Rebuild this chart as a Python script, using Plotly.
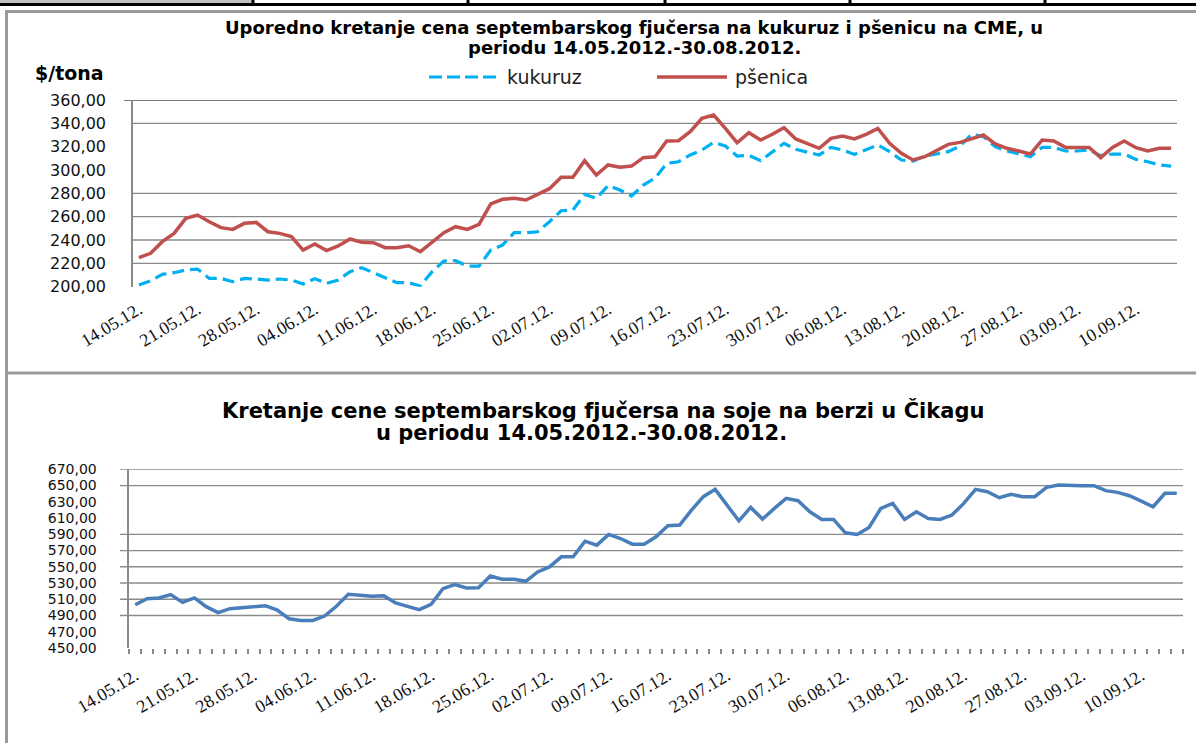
import plotly.graph_objects as go
import pandas as pd

W, H = 1196, 743

# ---------------- data ----------------
dates = list(pd.bdate_range("2012-05-14", periods=89).strftime("%d.%m.%y."))
label_dates = dates[::5]

kukuruz = [201.4, 205.1, 210.6, 212.0, 214.3, 215.1, 207.1, 207.1, 204.3, 207.1,
           206.6, 205.7, 206.6, 205.7, 202.3, 206.9, 202.9, 205.7, 212.9, 216.3,
           212.0, 208.0, 203.5, 203.4, 200.6, 212.9, 222.0, 222.3, 217.7, 217.7,
           231.4, 235.7, 246.3, 246.3, 247.1, 255.7, 265.1, 265.7, 279.1, 275.7,
           286.6, 282.9, 277.7, 287.1, 292.9, 305.7, 307.1, 312.9, 317.1, 323.7,
           320.6, 312.0, 312.6, 308.0, 315.7, 322.9, 317.7, 315.4, 312.9, 319.4,
           317.1, 313.4, 317.1, 321.4, 315.7, 308.6, 307.7, 312.0, 313.7, 315.7,
           320.6, 330.6, 328.6, 320.0, 316.3, 313.7, 311.4, 319.4, 319.4, 316.3,
           316.3, 317.1, 312.3, 313.7, 313.7, 309.1, 307.1, 304.3, 303.4]

psenica = [225.0, 228.6, 238.6, 245.7, 258.6, 261.4, 255.7, 250.6, 249.1, 254.3,
           255.1, 247.1, 245.7, 242.9, 231.4, 236.6, 230.9, 234.9, 240.9, 238.0,
           237.7, 233.4, 233.4, 235.1, 230.0, 238.6, 246.3, 251.4, 249.1, 253.4,
           270.9, 274.9, 275.7, 274.3, 279.4, 284.0, 293.7, 293.7, 308.0, 295.7,
           304.3, 302.3, 303.4, 310.6, 311.4, 324.9, 325.1, 332.9, 344.3, 347.1,
           335.7, 323.4, 332.0, 325.7, 330.6, 336.3, 326.6, 322.9, 318.6, 327.1,
           329.1, 326.6, 330.6, 335.7, 322.9, 314.3, 308.6, 311.4, 316.3, 322.0,
           323.7, 327.1, 330.0, 322.3, 318.6, 316.3, 313.7, 325.7, 324.9, 319.4,
           319.4, 319.4, 310.6, 319.4, 324.9, 319.1, 316.3, 318.6, 318.6]

soja = [503.3, 510.7, 511.6, 515.7, 506.2, 511.6, 500.9, 493.5, 498.4, 499.6,
        500.0, 502.1, 496.8, 486.0, 484.0, 484.0, 489.3, 501.3, 516.1, 514.9,
        513.6, 514.4, 505.4, 501.3, 497.2, 503.7, 523.1, 528.0, 523.9, 524.3,
        538.7, 534.6, 534.6, 532.1, 543.6, 549.8, 562.2, 562.2, 581.5, 576.6,
        589.8, 584.8, 577.8, 577.8, 586.9, 600.5, 601.3, 619.8, 636.3, 645.3,
        626.0, 606.6, 623.1, 608.7, 621.9, 634.2, 631.3, 617.7, 608.3, 608.3,
        591.8, 589.8, 598.4, 621.9, 628.0, 608.3, 617.7, 609.5, 608.3, 613.6,
        628.0, 645.3, 642.4, 635.0, 639.1, 636.3, 636.3, 647.8, 650.7, 649.8,
        649.8, 649.8, 643.7, 641.6, 637.5, 630.9, 623.9, 640.4, 640.4]

top_ticks = [200, 220, 240, 260, 280, 300, 320, 340, 360]
bottom_ticks = [450, 470, 490, 510, 530, 550, 570, 590, 610, 630, 650, 670]
# gridlines that are visible in the reference picture
top_grid = [220, 240, 260, 280, 340, 360]
bottom_grid = [490, 510, 530, 550, 570, 590, 650, 670]

title_top = ["Uporedno kretanje cena septembarskog fjučersa na kukuruz i pšenicu na CME, u",
             "periodu 14.05.2012.-30.08.2012."]
title_bottom = ["Kretanje cene septembarskog fjučersa na soje na berzi u Čikagu",
                "u periodu 14.05.2012.-30.08.2012."]

C_CORN = "#00B0F0"
C_WHEAT = "#C0504D"
C_SOY = "#4A7EBB"
GRID = "#8a8a8a"


def px(x):
    return x / W


def py(y):
    return 1 - y / H


x_idx = list(range(len(dates)))
tick_idx = x_idx[::5]

fig = go.Figure()
fig.add_trace(go.Scatter(x=x_idx, y=kukuruz, mode="lines", name="kukuruz",
                         line=dict(color=C_CORN, width=3.2, dash="12px,6px"),
                         xaxis="x", yaxis="y", showlegend=False))
fig.add_trace(go.Scatter(x=x_idx, y=psenica, mode="lines", name="pšenica",
                         line=dict(color=C_WHEAT, width=3.5),
                         xaxis="x", yaxis="y", showlegend=False))
fig.add_trace(go.Scatter(x=x_idx, y=soja, mode="lines", name="soja",
                         line=dict(color=C_SOY, width=3.5),
                         xaxis="x2", yaxis="y2", showlegend=False))

xfont = dict(family="Liberation Serif", size=18, color="#111")
yfont_top = dict(family="DejaVu Sans", size=16, color="#111")
yfont_bot = dict(family="DejaVu Sans", size=14, color="#111")

common_x = dict(range=[-0.5, len(dates) - 0.5], tickmode="array", tickvals=tick_idx,
                ticktext=label_dates, tickangle=-31, tickfont=xfont, showgrid=False,
                zeroline=False, showline=False, ticks="", automargin=False)

fig.update_layout(
    width=W, height=H, autosize=False,
    margin=dict(l=0, r=0, t=0, b=0, pad=0),
    paper_bgcolor="white", plot_bgcolor="white",
    separators=",.",
    xaxis=dict(domain=[px(133), px(1177)], anchor="y", ticklabelstandoff=8, **common_x),
    yaxis=dict(domain=[py(286.7), py(100)], anchor="x", range=[200, 360],
               tickmode="array", tickvals=top_ticks, tickformat=".2f",
               tickfont=yfont_top, showgrid=False, zeroline=False, ticks="", automargin=False,
               showline=True, linecolor=GRID, linewidth=1.5, ticklabelstandoff=22),
    xaxis2=dict(domain=[px(129.3), px(1182.7)], anchor="y2", ticklabelstandoff=13,
                minor=dict(tickmode="array", tickvals=[i - 0.5 for i in range(len(dates) + 1)],
                           ticks="outside", ticklen=5, tickwidth=1.5, tickcolor=GRID,
                           showgrid=False),
                **common_x),
    yaxis2=dict(domain=[py(648), py(469.3)], anchor="x2", range=[450, 670],
                tickmode="array", tickvals=bottom_ticks, tickformat=".2f",
                tickfont=yfont_bot, showgrid=False, zeroline=False, ticks="", automargin=False,
                showline=True, linecolor=GRID, linewidth=1.5, ticklabelstandoff=28),
)

shapes = []
# page furniture: table strip at the very top
shapes.append(dict(type="rect", xref="paper", yref="paper", x0=px(0), x1=px(252),
                   y0=py(3), y1=py(0), fillcolor="#C0C0C0", line=dict(width=0), layer="below"))
shapes.append(dict(type="line", xref="paper", yref="paper", x0=0, x1=1, y0=py(4.5), y1=py(4.5),
                   line=dict(color="black", width=3)))
for vx in [253, 468, 665, 850, 1045]:
    shapes.append(dict(type="line", xref="paper", yref="paper", x0=px(vx), x1=px(vx),
                       y0=py(0), y1=py(6), line=dict(color="black", width=3)))
# chart frames
shapes.append(dict(type="line", xref="paper", yref="paper", x0=px(5), x1=1, y0=py(11.5), y1=py(11.5),
                   line=dict(color="#9a9a9a", width=3)))
shapes.append(dict(type="line", xref="paper", yref="paper", x0=px(6.5), x1=px(6.5), y0=py(10), y1=0,
                   line=dict(color="#9a9a9a", width=3)))
shapes.append(dict(type="line", xref="paper", yref="paper", x0=px(5), x1=1, y0=py(373), y1=py(373),
                   line=dict(color="#9a9a9a", width=3)))

# gridlines
for v in top_grid:
    shapes.append(dict(type="line", xref="paper", yref="y",
                       x0=px(124) if v == 360 else px(133), x1=px(1177), y0=v, y1=v,
                       line=dict(color="#7a7a7a" if v == 360 else GRID, width=2 if v == 360 else 1.3),
                       layer="below"))
for v in bottom_grid:
    shapes.append(dict(type="line", xref="paper", yref="y2", x0=px(120), x1=px(1183), y0=v, y1=v,
                       line=dict(color=GRID, width=1.3), layer="below"))

# legend (top chart)
shapes.append(dict(type="line", xref="paper", yref="paper", x0=px(429), x1=px(499), y0=py(77), y1=py(77),
                   line=dict(color=C_CORN, width=3.2, dash="13px,5px")))
shapes.append(dict(type="line", xref="paper", yref="paper", x0=px(657), x1=px(727), y0=py(77), y1=py(77),
                   line=dict(color=C_WHEAT, width=3.5)))
fig.update_layout(shapes=shapes)

annotations = []
tfont = dict(family="DejaVu Sans", size=18, color="black")
annotations.append(dict(text="<b>" + title_top[0] + "</b>", x=px(634), y=py(28), xref="paper", yref="paper",
                        xanchor="center", yanchor="middle", showarrow=False, font=tfont))
annotations.append(dict(text="<b>" + title_top[1] + "</b>", x=px(634), y=py(48), xref="paper", yref="paper",
                        xanchor="center", yanchor="middle", showarrow=False, font=tfont))
annotations.append(dict(text="<b>$/tona</b>", x=px(33), y=py(73), xref="paper", yref="paper",
                        xanchor="left", yanchor="middle", showarrow=False,
                        font=dict(family="DejaVu Sans", size=19, color="black")))
lfont = dict(family="DejaVu Sans", size=19, color="#222")
annotations.append(dict(text="kukuruz", x=px(505), y=py(77), xref="paper", yref="paper",
                        xanchor="left", yanchor="middle", showarrow=False, font=lfont))
annotations.append(dict(text="pšenica", x=px(733), y=py(77), xref="paper", yref="paper",
                        xanchor="left", yanchor="middle", showarrow=False, font=lfont))
bfont = dict(family="DejaVu Sans", size=21, color="black")
annotations.append(dict(text="<b>" + title_bottom[0] + "</b>", x=px(603), y=py(411), xref="paper", yref="paper",
                        xanchor="center", yanchor="middle", showarrow=False, font=bfont))
annotations.append(dict(text="<b>" + title_bottom[1] + "</b>", x=px(581), y=py(433), xref="paper", yref="paper",
                        xanchor="center", yanchor="middle", showarrow=False, font=bfont))
fig.update_layout(annotations=annotations)

fig.write_html("out.html", config={"displayModeBar": False},
               post_script="document.body.style.margin='0';document.body.style.padding='0';")
